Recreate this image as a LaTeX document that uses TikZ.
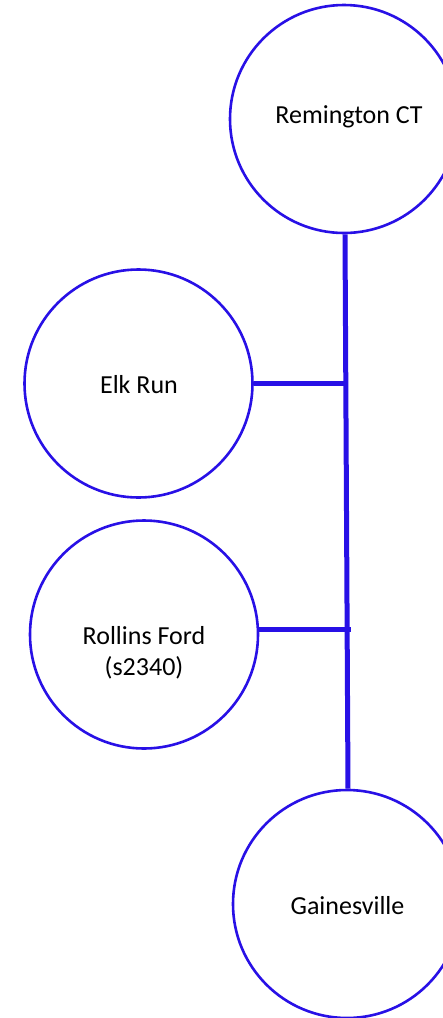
\documentclass[tikz,border=0pt]{standalone}
\usepackage{fontspec}
\setmainfont{Carlito}
\definecolor{lineblue}{RGB}{40,16,230}
\begin{document}
\begin{tikzpicture}[x=1pt,y=-1pt,
  station/.style={circle,draw=lineblue,line width=2.6pt,fill=white,minimum size=228pt,inner sep=0pt},
  label/.style={font=\fontsize{26}{31}\selectfont,text=black,align=center,inner sep=0pt},
  bus/.style={draw=lineblue,line width=5pt}]
\useasboundingbox (0,0) rectangle (443,1018);
\clip (0,0) rectangle (443,1018);
\node[station] (rc) at (344,119) {};
\node[station] (er) at (138.5,383.5) {};
\node[station] (rf) at (144,634.5) {};
\node[station] (gv) at (347,904) {};
\node[label] (rct) at (349,117) {Remington CT};
\node[label] (ert) at (139,385) {Elk Run};
\node[label] (rft) at (144,653) {Rollins Ford\\(s2340)};
\node[label] (gvt) at (347.5,906) {Gainesville};
\coordinate (topx) at (345,0);
\coordinate (botx) at (348,0);
\coordinate (top) at (topx |- rc.south);
\coordinate (bot) at (botx |- gv.north);
\coordinate (j1) at (346,383);
\coordinate (j2) at (351,629);
\draw[bus] (top) -- (bot);
\draw[bus] (er.east |- j1) -- (j1);
\draw[bus] (rf.east |- j2) -- (j2);
\end{tikzpicture}
\end{document}
